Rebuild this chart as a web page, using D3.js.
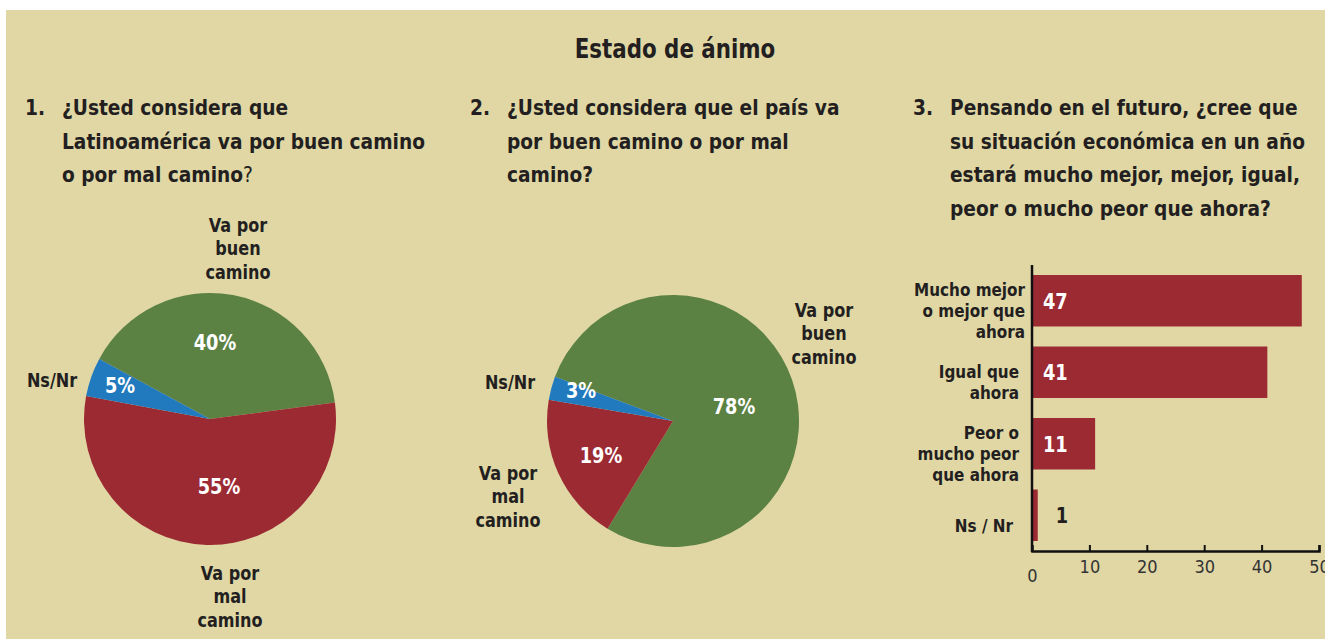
<!DOCTYPE html>
<meta charset="utf-8">
<html>
<head>
<title>Estado de ánimo</title>
<style>
  body { margin: 0; background: #fff; }
  text { font-family: "Liberation Sans Narrow", "DejaVu Sans Condensed", sans-serif; fill: #231f20; }
  .b { font-weight: bold; }
  .tick text { font-family: "DejaVu Sans Condensed", sans-serif; }
</style>
<script src="https://cdn.jsdelivr.net/npm/d3@7"></script>
</head>
<body>
<script>

    // pie 1: Latinoamerica
    var pie1Labels = ["Va por buen camino", "Va por mal camino", "Ns/Nr"];
    var pie1Values = [40, 55, 5];
    // pie 2: el pais
    var pie2Labels = ["Va por buen camino", "Va por mal camino", "Ns/Nr"];
    var pie2Values = [78, 19, 3];
    // bars: situacion economica en un año
    var barCats = ["Mucho mejor o mejor que ahora", "Igual que ahora", "Peor o mucho peor que ahora", "Ns / Nr"];
    var barValues = [47, 41, 11, 1];
    var barTicks = [0, 10, 20, 30, 40, 50];

    var width = 1325, height = 639;
    var colors = ["#5b8243", "#9c2a33", "#2179be"];
    var SX = 0.94;   // condensed look, the narrow font is not there

    var svg = d3.select("body").append("svg")
        .attr("width", width)
        .attr("height", height);

    svg.append("rect")
        .attr("x", 6).attr("y", 10)
        .attr("width", width - 6).attr("height", height - 10)
        .attr("fill", "#e0d7a5");

    // text squeezed horizontally around its anchor point
    var sqText = function(parent, x, y, sx) {
        return parent.append("text")
            .attr("transform", `translate(${x},${y}) scale(${sx},1)`);
    }

    sqText(svg, 675, 58, 0.88)
        .attr("class", "b")
        .attr("text-anchor", "middle")
        .style("font-size", "27px")
        .text("Estado de ánimo");

    // questions, one line per entry
    var drawQuestion = function(num, x, lines) {
        var g = svg.append("g").attr("class", "b").style("font-size", "22px");
        sqText(g, x, 115, SX).text(num);
        lines.forEach(function(l, i) {
            var t = sqText(g, x + 37, 115 + i * 33.5, SX);
            t.append("tspan").text(l[0]);
            if (l[1]) t.append("tspan").style("font-weight", "normal").text(l[1]);
        });
    }
    drawQuestion("1.", 25, [["¿Usted considera que"], ["Latinoamérica va por buen camino"], ["o por mal camino", "?"]]);
    drawQuestion("2.", 470, [["¿Usted considera que el país va"], ["por buen camino o por mal"], ["camino?"]]);
    drawQuestion("3.", 913, [["Pensando en el futuro, ¿cree que"], ["su situación económica en un año"], ["estará mucho mejor, mejor, igual,"], ["peor o mucho peor que ahora?"]]);

    // multi line label helper
    var multiLabel = function(g, x, y, lines, anchor, size, step) {
        var t = sqText(g, x, y, SX).attr("class", "b")
            .attr("text-anchor", anchor)
            .style("font-size", size + "px");
        lines.forEach(function(l, i) {
            t.append("tspan").attr("x", 0).attr("y", i * step).text(l);
        });
    }

    var drawPie = function(cx, cy, values, startDeg, pctPos, outLabels) {
        var r = 126;
        var pie = d3.pie().sort(null)
            .startAngle(startDeg * Math.PI / 180)
            .endAngle((startDeg + 360) * Math.PI / 180);
        var arc = d3.arc().innerRadius(0).outerRadius(r);
        var g = svg.append("g").attr("transform", `translate(${cx},${cy})`);
        g.selectAll("path")
          .data(pie(values))
          .enter().append("path")
          .attr("d", arc)
          .attr("fill", function(d, i) { return colors[i]; });
        pie(values).forEach(function(d, i) {
            sqText(g, pctPos[i][0], pctPos[i][1], SX)
              .attr("class", "b")
              .attr("text-anchor", "middle")
              .style("font-size", "21px")
              .style("fill", "#fff")
              .text(d.data + "%");
        });
        outLabels.forEach(function(o) {
            multiLabel(g, o[0], o[1], o[2], "middle", 19, 23.5);
        });
    }

    drawPie(210, 419, pie1Values, -61.5,
        [[5, -69], [9, 75], [-90, -26]],
        [[28, -187, ["Va por", "buen", "camino"]],
         [20, 161, ["Va por", "mal", "camino"]],
         [-158, -32, ["Ns/Nr"]]]);

    drawPie(673, 421, pie2Values, -69.5,
        [[61, -7], [-72, 42], [-92, -23]],
        [[151, -104, ["Va por", "buen", "camino"]],
         [-165, 59, ["Va por", "mal", "camino"]],
         [-163, -32, ["Ns/Nr"]]]);

    // bar chart
    var x = d3.scaleLinear().domain([0, 50]).range([1032, 1319]);
    var y = d3.scaleBand().domain(barCats).range([265, 551])
        .paddingInner(0.28).paddingOuter(0.14);

    svg.selectAll("rect.bar")
      .data(barValues)
      .enter().append("rect")
      .attr("class", "bar")
      .attr("x", x(0))
      .attr("y", function(d, i) { return y(barCats[i]); })
      .attr("width", function(d) { return x(d) - x(0); })
      .attr("height", y.bandwidth())
      .attr("fill", "#9c2a33");

    barValues.forEach(function(d, i) {
        sqText(svg, d > 5 ? x(0) + 11 : x(d) + 18, y(barCats[i]) + y.bandwidth() / 2 + 8, SX)
          .attr("class", "b")
          .style("font-size", "21px")
          .style("fill", d > 5 ? "#fff" : "#231f20")
          .text(d);
    });

    var catLines = [["Mucho mejor", "o mejor que", "ahora"], ["Igual que", "ahora"], ["Peor o", "mucho peor", "que ahora"], ["Ns / Nr"]];
    var catRight = [1025, 1019, 1019, 1013];
    catLines.forEach(function(l, i) {
        var mid = y(barCats[i]) + y.bandwidth() / 2;
        multiLabel(svg, catRight[i], mid + 30 - l.length * 10.75 - 3, l, "end", 18, 21.5);
    });

    // axes
    var xAxis = svg.append("g")
        .attr("transform", "translate(0,551)")
        .call(d3.axisBottom(x).tickValues(barTicks).tickSize(-6).tickPadding(10));
    xAxis.select(".domain").attr("stroke", "#111").attr("stroke-width", 2.5);
    xAxis.selectAll(".tick line").attr("stroke", "#111").attr("stroke-width", 2);
    xAxis.selectAll(".tick text")
        .style("font-size", "18px")
        .style("fill", "#333")
        .attr("y", function(d) { return d == 0 ? 18 : 9; });
    xAxis.selectAll(".tick").filter(function(d) { return d == 0; }).select("line").remove();

    svg.append("line")
        .attr("x1", x(0)).attr("x2", x(0))
        .attr("y1", 265).attr("y2", 552)
        .attr("stroke", "#111").attr("stroke-width", 2.5);

</script>
</body>
</html>
